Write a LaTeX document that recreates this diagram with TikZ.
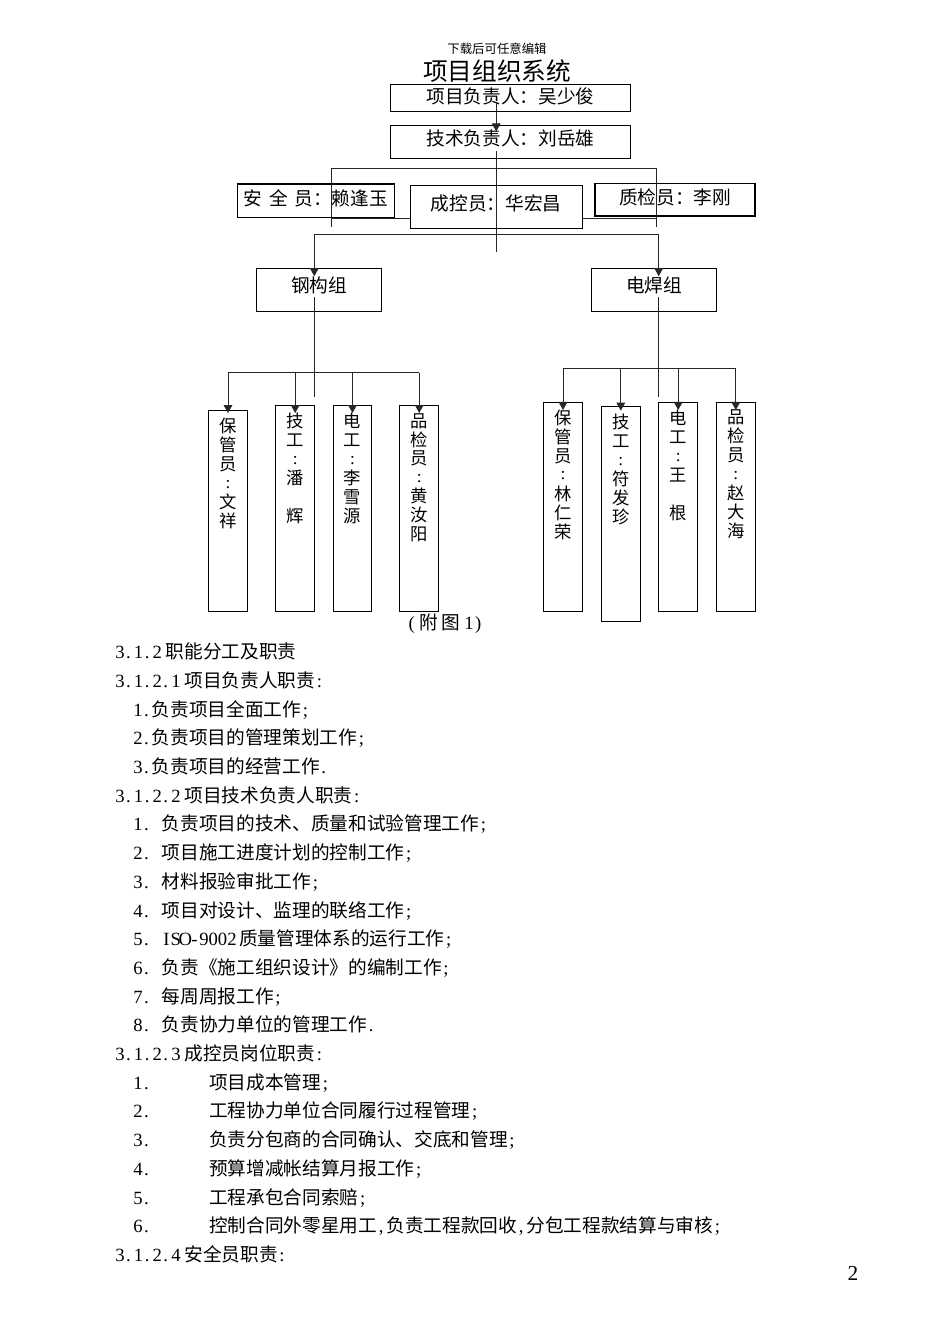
\documentclass[tikz,border=0pt]{standalone}
\usepackage{fontspec}
\setmainfont{Noto Sans CJK SC}
\newfontfamily\latinf{Liberation Serif}
\usetikzlibrary{arrows.meta,calc,backgrounds}
\makeatletter
\newcommand\hw[1]{\@tfor\hw@c:=#1\do{\hw@box}}
\def\hw@box{%
  \ifnum0\if\hw@c.1\fi\if\hw@c,1\fi\if\hw@c;1\fi\if\hw@c:1\fi>0
    \makebox[0.5em][l]{\hspace{0.08em}\latinf\hw@c}%
  \else
    \makebox[0.5em][c]{\latinf\hw@c}%
  \fi}
\makeatother
\newcommand\vc{\raisebox{1pt}{\latinf :}}
\newcommand\hd[1]{\hw{#1}\hspace{3pt}}
\begin{document}
\begin{tikzpicture}[x=0.75pt,y=-0.75pt,
  box/.style={draw=black, line width=0.8pt, inner sep=0pt,
    font=\fontsize{14pt}{16pt}\selectfont, text height=12.3pt},
  cbox/.style={draw=black, line width=0.8pt, inner sep=0pt, anchor=north,
    minimum width=28.9pt},
  vtext/.style={anchor=north, inner sep=0pt, align=center, yshift=-6pt,
    font=\fontsize{13pt}{14.2pt}\selectfont},
  conn/.style={draw=black!85, line width=0.75pt},
  arr/.style={-{Triangle[length=6pt,width=6.5pt]}},
  ln/.style={anchor=west, inner sep=0pt, font=\fontsize{14pt}{16pt}\selectfont,
    text height=12.3pt, text depth=1.7pt}]
\useasboundingbox (0,0) rectangle (950,1344);

% header
\node[inner sep=0pt, font=\fontsize{9.3pt}{11pt}\selectfont] (dl) at (497,49) {下载后可任意编辑};
\node[inner sep=0pt, font=\fontsize{18.5pt}{20pt}\selectfont] (title) at (497,71) {项目组织系统};

% upper boxes
\node[box, minimum width=179.5pt, minimum height=20.5pt, text depth=3.7pt] (pm) at (510.4,98) {项目负责人：吴少俊};
\node[box, minimum width=179.5pt, minimum height=24.5pt, text depth=7.2pt] (tm) at (510.4,142) {技术负责人：刘岳雄};
\node[box, minimum width=117.5pt, minimum height=25.3pt, text depth=5.7pt] (aq) at (315.7,200.9) {安\hspace{5pt}全\hspace{5pt}员：赖逢玉};
\node[box, fill=white, minimum width=129.2pt, minimum height=32pt, text depth=7.2pt] (ck) at (496.2,207) {成控员：华宏昌};
\node[box, minimum width=120pt, minimum height=24.5pt, text depth=5.3pt] (zj) at (675,199.7) {质检员：李刚};
\node[box, minimum width=93.75pt, minimum height=32.5pt, text depth=9.2pt] (gg) at (319.2,290) {钢构组};
\node[box, minimum width=93.75pt, minimum height=32.5pt, text depth=9.2pt] (dh) at (654.2,290) {电焊组};

% worker boxes
\node[cbox, minimum height=150.75pt] (c1) at (228,410) {};
\node[cbox, minimum height=154.5pt] (c2) at (295.2,405) {};
\node[cbox, minimum height=154.5pt] (c3) at (352.5,405) {};
\node[cbox, minimum height=154.5pt] (c4) at (419.2,405) {};
\node[cbox, minimum height=157pt] (d1) at (563,401.7) {};
\node[cbox, minimum height=161.25pt] (d2) at (620.8,405.7) {};
\node[cbox, minimum height=157pt] (d3) at (678.2,401.7) {};
\node[cbox, minimum height=157pt] (d4) at (735.8,401.7) {};
\node[vtext] (c1t) at (c1.north) {保\\管\\员\\\vc\\文\\祥};
\node[vtext] (c2t) at (c2.north) {技\\工\\\vc\\潘\\[14.2pt]辉};
\node[vtext] (c3t) at (c3.north) {电\\工\\\vc\\李\\雪\\源};
\node[vtext] (c4t) at (c4.north) {品\\检\\员\\\vc\\黄\\汝\\阳};
\node[vtext] (d1t) at (d1.north) {保\\管\\员\\\vc\\林\\仁\\荣};
\node[vtext] (d2t) at (d2.north) {技\\工\\\vc\\符\\发\\珍};
\node[vtext] (d3t) at (d3.north) {电\\工\\\vc\\王\\[14.2pt]根};
\node[vtext] (d4t) at (d4.north) {品\\检\\员\\\vc\\赵\\大\\海};

\node[inner sep=0pt, font=\fontsize{14pt}{16pt}\selectfont] (fig) at (445,624) {\hw{(}\hspace{2pt}附\hspace{3pt}图\hspace{3pt}\hw{1}\hw{)}};

% coordinates
\coordinate (ubL) at (331.7,169);
\coordinate (ubR) at (656.7,169);
\coordinate (lbL) at (314.3,234.3);
\coordinate (lbR) at (658.7,234.3);
\coordinate (gbar) at (314.3,372.7);
\coordinate (dbar) at (658.7,368.3);

\begin{scope}[on background layer]
\fill[white] (0,0) rectangle (950,1344);
\draw[conn] ($(ubL)+(0,49.5)$) -- ($(ubR)+(0,49.5)$);
\end{scope}

% connectors
\draw[conn, arr, shorten >=-4.7pt] ($(ck.center |- pm.south)+(0,-8.7)$) -- (ck.center |- tm.north);
\draw[conn] ($(ck.center |- tm.south)+(0,-8.3)$) -- ($(ck.south)+(0,23.4)$);
\draw[conn] ($(ubL)+(0,57.7)$) -- (ubL) -- (ubR) -- ($(ubR)+(0,57.7)$);
\draw[conn] (lbL) -- (lbR);
\draw[conn, arr, shorten >=-6.3pt] (lbL) -- (lbL |- gg.north);
\draw[conn, arr, shorten >=-6.3pt] (lbR) -- (lbR |- dh.north);

\draw[conn] ($(gbar |- gg.south)+(0,-15)$) -- ($(gbar)+(0,24)$);
\draw[conn] (c1.north |- gbar) -- (c4.north |- gbar);
\draw[conn, arr, shorten >=-2.3pt] (c1.north |- gbar) -- (c1.north);
\foreach \c in {c2,c3,c4}
  \draw[conn, arr, shorten >=-6pt] (\c.north |- gbar) -- (\c.north);

\draw[conn] ($(dbar |- dh.south)+(0,-15)$) -- ($(dbar)+(0,28.4)$);
\draw[conn] (d1.north |- dbar) -- (d4.north |- dbar);
\foreach \c in {d1,d3,d4}
  \draw[conn, arr, shorten >=-6.2pt] (\c.north |- dbar) -- (\c.north);
\draw[conn, arr, shorten >=-3.7pt] (d2.north |- dbar) -- (d2.north);

% body text
\node[ln] (t1) at (115,651.7) {\hd{3.1.2}职能分工及职责};
\node[ln] (t2) at (115,680.4) {\hd{3.1.2.1}项目负责人职责\hw{:}};
\node[ln] (t3) at (133,709.1) {\hw{1.}负责项目全面工作\hw{;}};
\node[ln] (t4) at (133,737.8) {\hw{2.}负责项目的管理策划工作\hw{;}};
\node[ln] (t5) at (133,766.5) {\hw{3.}负责项目的经营工作\hw{.}};
\node[ln] (t6) at (115,795.2) {\hd{3.1.2.2}项目技术负责人职责\hw{:}};
\node[ln] (t7) at (133,823.9) {\hw{1.}\hspace{7.5pt}负责项目的技术、质量和试验管理工作\hw{;}};
\node[ln] (t8) at (133,852.6) {\hw{2.}\hspace{7.5pt}项目施工进度计划的控制工作\hw{;}};
\node[ln] (t9) at (133,881.3) {\hw{3.}\hspace{7.5pt}材料报验审批工作\hw{;}};
\node[ln] (t10) at (133,910.0) {\hw{4.}\hspace{7.5pt}项目对设计、监理的联络工作\hw{;}};
\node[ln] (t11) at (133,938.7) {\hw{5.}\hspace{7.5pt}\hw{ISO-9002}\hspace{2pt}质量管理体系的运行工作\hw{;}};
\node[ln] (t12) at (133,967.4) {\hw{6.}\hspace{7.5pt}负责《施工组织设计》的编制工作\hw{;}};
\node[ln] (t13) at (133,996.1) {\hw{7.}\hspace{7.5pt}每周周报工作\hw{;}};
\node[ln] (t14) at (133,1024.8) {\hw{8.}\hspace{7.5pt}负责协力单位的管理工作\hw{.}};
\node[ln] (t15) at (115,1053.5) {\hd{3.1.2.3}成控员岗位职责\hw{:}};
\node[ln] (t16) at (133,1082.2) {\hw{1.}\hspace{43pt}项目成本管理\hw{;}};
\node[ln] (t17) at (133,1110.9) {\hw{2.}\hspace{43pt}工程协力单位合同履行过程管理\hw{;}};
\node[ln] (t18) at (133,1139.6) {\hw{3.}\hspace{43pt}负责分包商的合同确认、交底和管理\hw{;}};
\node[ln] (t19) at (133,1168.3) {\hw{4.}\hspace{43pt}预算增减帐结算月报工作\hw{;}};
\node[ln] (t20) at (133,1197.0) {\hw{5.}\hspace{43pt}工程承包合同索赔\hw{;}};
\node[ln] (t21) at (133,1225.7) {\hw{6.}\hspace{43pt}控制合同外零星用工\hw{,}负责工程款回收\hw{,}分包工程款结算与审核\hw{;}};
\node[ln] (t22) at (115,1254.4) {\hd{3.1.2.4}安全员职责\hw{:}};

\node[inner sep=0pt, font=\latinf\fontsize{16pt}{18pt}\selectfont] (pg) at (853,1273) {2};
\end{tikzpicture}
\end{document}
